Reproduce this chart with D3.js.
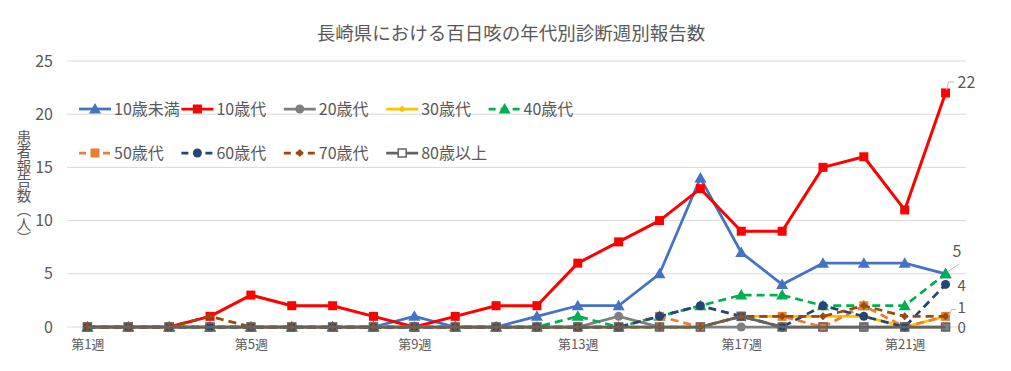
<!DOCTYPE html>
<html><head><meta charset="utf-8">
<script src="https://cdn.jsdelivr.net/npm/d3@7"></script>
<style>
body{margin:0;background:#fff;}
text{font-family:"Noto Sans CJK JP","Noto Sans",sans-serif;fill:#595959;}
</style></head>
<body><svg id="c" width="1011" height="371"></svg>
<script>
const title = "長崎県における百日咳の年代別診断週別報告数";
const yTitle = "患者報告数（人）";
const weeks = d3.range(1, 23).map(w => "第" + w + "週");
const xTickLabels = ["第1週","第5週","第9週","第13週","第17週","第21週"];
const yTicks = [0,5,10,15,20,25];
const seriesNames = ["10歳未満","10歳代","20歳代","30歳代","40歳代","50歳代","60歳代","70歳代","80歳以上"];
const under10 = [0,0,0,0,0,0,0,0,1,0,0,1,2,2,5,14,7,4,6,6,6,5];
const teens   = [0,0,0,1,3,2,2,1,0,1,2,2,6,8,10,13,9,9,15,16,11,22];
const s20     = [0,0,0,0,0,0,0,0,0,0,0,0,0,1,0,0,0,0,0,0,0,0];
const s30     = [0,0,0,0,0,0,0,0,0,0,0,0,0,0,0,0,1,1,1,1,0,1];
const s40     = [0,0,0,0,0,0,0,0,0,0,0,0,1,0,1,2,3,3,2,2,2,5];
const s50     = [0,0,0,0,0,0,0,0,0,0,0,0,0,0,1,0,1,1,0,2,0,1];
const s60     = [0,0,0,0,0,0,0,0,0,0,0,0,0,0,1,2,1,0,2,1,0,4];
const s70     = [0,0,0,1,0,0,0,0,0,0,0,0,0,0,0,0,1,1,1,2,1,1];
const s80     = [0,0,0,0,0,0,0,0,0,0,0,0,0,0,0,0,1,0,0,0,0,0];
const seriesValues = [under10, teens, s20, s30, s40, s50, s60, s70, s80];
const labelText = ["22","5","4","1","0"];

const styles = [
  {color:"#4472C4", shape:"tri", dash:null, size:10},
  {color:"#FF0000", shape:"sq", dash:null, size:9},
  {color:"#7F7F7F", shape:"circ", dash:null, size:9},
  {color:"#FFC000", shape:"dia", dash:null, size:7},
  {color:"#00B050", shape:"tri", dash:"8,5", size:10},
  {color:"#ED7D31", shape:"sq", dash:"8,5", size:9},
  {color:"#264478", shape:"circ", dash:"8,5", size:9},
  {color:"#9E480E", shape:"dia", dash:"8,5", size:8},
  {color:"#636363", shape:"open", dash:null, size:8}
];

const svg = d3.select("#c");
const L = 67, R = 966, T = 61, B = 327;
const x = d3.scalePoint().domain(weeks).range([L, R]).padding(0.5);
const y = d3.scaleLinear().domain([0, 25]).range([B, T]);

svg.append("text").attr("x", 511).attr("y", 40).attr("text-anchor","middle")
  .style("font-size","18.5px").text(title);

// grid
svg.append("g").selectAll("line").data(yTicks.filter(t=>t>0)).join("line")
  .attr("x1", L).attr("x2", R).attr("y1", d=>y(d)).attr("y2", d=>y(d))
  .attr("stroke","#D9D9D9").attr("stroke-width",1);
svg.append("line").attr("x1",L).attr("x2",R).attr("y1",y(0)).attr("y2",y(0))
  .attr("stroke","#D9D9D9").attr("stroke-width",1);

// y axis
const ya = svg.append("g").attr("transform",`translate(${L},0)`)
  .call(d3.axisLeft(y).tickValues(yTicks).tickSize(0).tickPadding(14));
ya.select(".domain").remove();
ya.selectAll("text").style("font-size","16px").style("font-family",'"Noto Sans CJK JP",sans-serif').attr("fill","#595959");

// x axis
const xa = svg.append("g").attr("transform",`translate(0,${B})`)
  .call(d3.axisBottom(x).tickValues(xTickLabels).tickSize(0).tickPadding(13));
xa.select(".domain").remove();
xa.selectAll("text").style("font-size","13px").style("font-family",'"Noto Sans CJK JP",sans-serif').attr("fill","#595959");

// y title (vertical writing)
svg.append("text").attr("x", 24).attr("y", 188)
  .attr("text-anchor","middle")
  .style("writing-mode","vertical-rl")
  .style("font-size","14.5px").text(yTitle);

function marker(g, st, cx, cy, legend){
  const s = st.size;
  if (st.shape==="tri"){
    g.append("path").attr("d",`M${cx},${cy-s*0.6}L${cx+s*0.6},${cy+s*0.45}L${cx-s*0.6},${cy+s*0.45}Z`).attr("fill",st.color);
  } else if (st.shape==="sq"){
    g.append("rect").attr("x",cx-s/2).attr("y",cy-s/2).attr("width",s).attr("height",s).attr("fill",st.color);
  } else if (st.shape==="circ"){
    g.append("circle").attr("cx",cx).attr("cy",cy).attr("r",s/2).attr("fill",st.color);
  } else if (st.shape==="dia"){
    g.append("path").attr("d",`M${cx},${cy-s/2}L${cx+s/2},${cy}L${cx},${cy+s/2}L${cx-s/2},${cy}Z`).attr("fill",st.color);
  } else {
    g.append("rect").attr("x",cx-s/2).attr("y",cy-s/2).attr("width",s).attr("height",s)
      .attr("fill", legend ? "#fff" : "none").attr("stroke",st.color).attr("stroke-width",1.5);
  }
}

// series
const line = d3.line().x((d,i)=>x(weeks[i])).y(d=>y(d));
seriesValues.forEach((vals, k) => {
  const st = styles[k];
  const g = svg.append("g");
  g.append("path").attr("d", line(vals)).attr("fill","none").attr("stroke",st.color)
    .attr("stroke-width", k===1 ? 3 : 2.75).attr("stroke-dasharray", st.dash)
    .attr("stroke-linejoin","round");
  vals.forEach((v,i)=> marker(g, st, x(weeks[i]), y(v), false));
});

// legend
seriesNames.forEach((name, k) => {
  const st = styles[k];
  const row = k < 5 ? 0 : 1, col = k < 5 ? k : k - 5;
  const lx = 79 + col*102.4, ly = row===0 ? 109 : 153;
  const g = svg.append("g");
  g.append("line").attr("x1",lx).attr("x2",lx+32).attr("y1",ly).attr("y2",ly)
    .attr("stroke",st.color).attr("stroke-width",2.75)
    .attr("stroke-dasharray", st.dash ? "7,5" : null);
  marker(g, st, lx+16, ly, true);
  g.append("text").attr("x", lx+35).attr("y", ly).attr("dy","0.36em")
    .style("font-size","16px").text(name);
});

// data labels
const last = weeks.length - 1, lxp = x(weeks[last]);
const lab = svg.append("g");
const lead = (pts) => lab.append("path").attr("d", d3.line()(pts)).attr("fill","none").attr("stroke","#BFBFBF").attr("stroke-width",1);
const fs = "15px";
// 22
lead([[lxp+1, y(teens[last])-3],[lxp+3, y(teens[last])-11],[lxp+9, y(teens[last])-11]]);
lab.append("text").attr("x", lxp+12).attr("y", y(teens[last])-11).attr("dy","0.36em").style("font-size","16px").text(labelText[0]);
// 5
lead([[lxp+2, y(s40[last])-2],[lxp+14, y(s40[last])-10]]);
lab.append("text").attr("x", lxp+7).attr("y", y(s40[last])-23).attr("dy","0.36em").style("font-size","16px").text(labelText[1]);
// 4
lab.append("text").attr("x", lxp+12).attr("y", y(s60[last])+1).attr("dy","0.36em").style("font-size",fs).text(labelText[2]);
// 1
lead([[lxp+3, y(s50[last])],[lxp+6, y(s50[last])-7],[lxp+11, y(s50[last])-7]]);
lab.append("text").attr("x", lxp+12).attr("y", y(s50[last])-9).attr("dy","0.36em").style("font-size",fs).text(labelText[3]);
// 0
lab.append("text").attr("x", lxp+12).attr("y", y(s80[last])+1).attr("dy","0.36em").style("font-size",fs).text(labelText[4]);
</script></body></html>
